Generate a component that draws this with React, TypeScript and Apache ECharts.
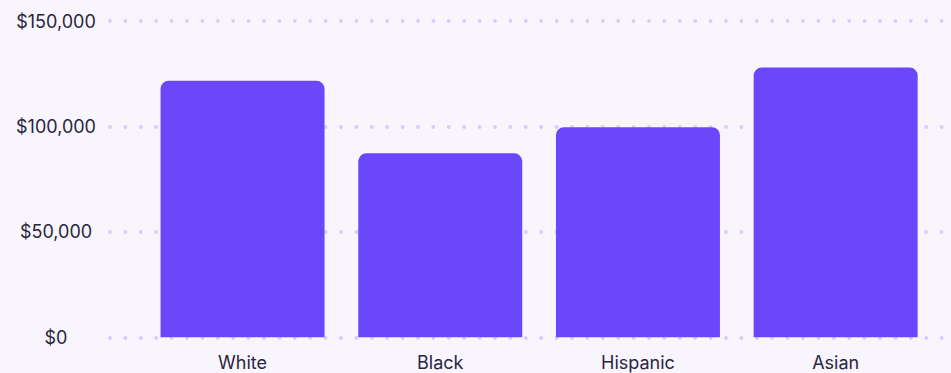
import React, { useEffect, useRef } from "react";
import * as echarts from "echarts";

const categories = ["White", "Black", "Hispanic", "Asian"];
const incomeValues = [121700, 87300, 99700, 128000];
const yTicks = [0, 50000, 100000, 150000];

const BG = "#F8F5FD";
const BAR = "#6A47FA";
const TEXT = "#2A2540";
const DOT = "#D8CCF8";
const FONT = "Inter, 'Noto Sans', sans-serif";

export default function App() {
  const ref = useRef<HTMLDivElement>(null);
  useEffect(() => {
    if (!ref.current) return;
    const chart = echarts.init(ref.current, null, { renderer: "svg" });
    const yMin = yTicks[0];
    const yMax = yTicks[yTicks.length - 1];
    const yInterval = yTicks[1] - yTicks[0];
    const fmt = (v: number) => "$" + v.toLocaleString("en-US");
    chart.setOption({
      animation: false,
      backgroundColor: BG,
      textStyle: { fontFamily: FONT },
      grid: [
        { left: 110, right: 0, top: 21.2, bottom: 35.7 },
        { left: 143.7, right: 16.5, top: 21.2, bottom: 35.7 },
      ],
      xAxis: [
        { type: "value", gridIndex: 0, show: false, min: 0, max: 1 },
        {
          type: "category",
          gridIndex: 1,
          data: categories,
          axisLine: { show: false },
          axisTick: { show: false },
          axisLabel: { color: TEXT, fontSize: 18, margin: 16, fontFamily: FONT },
        },
      ],
      yAxis: [
        {
          type: "value",
          gridIndex: 0,
          min: yMin,
          max: yMax,
          interval: yInterval,
          axisLine: { show: false },
          axisTick: { show: false },
          axisLabel: {
            color: TEXT,
            fontSize: 18,
            align: "center",
            margin: 54,
            formatter: fmt,
            fontFamily: FONT,
          },
          splitLine: {
            show: true,
            lineStyle: { color: DOT, width: 3.8, type: [0, 15.4], cap: "round" },
          },
        },
        {
          type: "value",
          gridIndex: 1,
          min: yMin,
          max: yMax,
          interval: yInterval,
          show: false,
          splitLine: { show: false },
        },
      ],
      series: [
        {
          type: "bar",
          xAxisIndex: 1,
          yAxisIndex: 1,
          data: incomeValues,
          barWidth: 164,
          itemStyle: { color: BAR, borderRadius: [8, 8, 0, 0] },
        },
      ],
    });
    return () => chart.dispose();
  }, []);
  return (
    <div
      ref={ref}
      style={{ position: "absolute", left: 0, top: 0, width: 951, height: 373 }}
    />
  );
}
